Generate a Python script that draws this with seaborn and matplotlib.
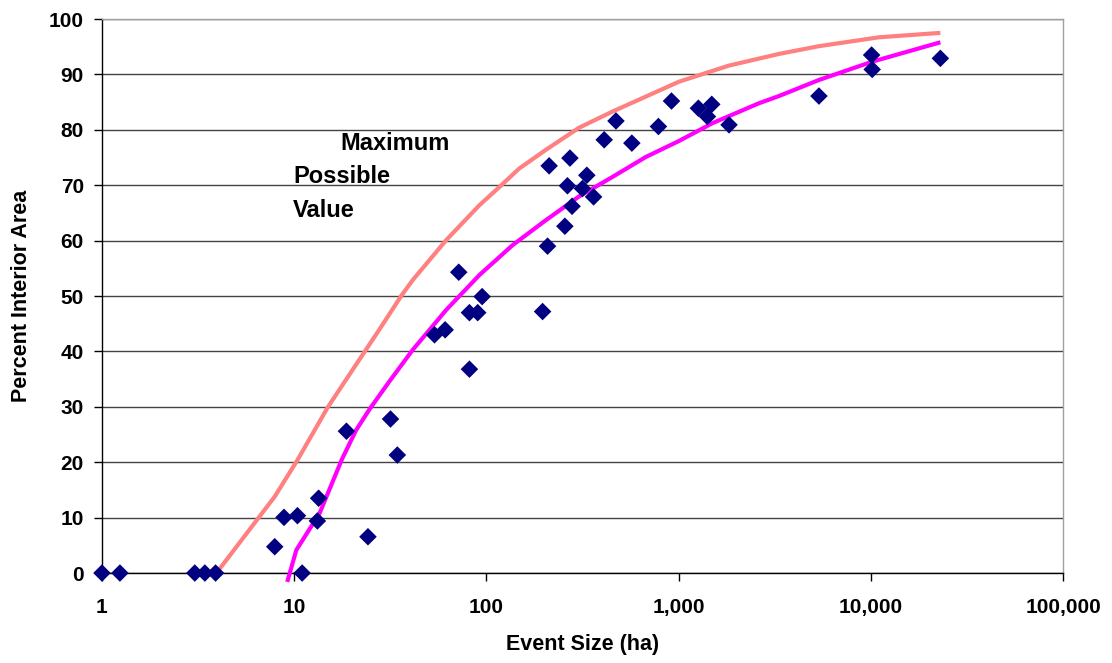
#!/usr/bin/env python
# coding: utf-8

# Percent interior area vs event size, with maximum possible value curve and fitted curve

import numpy as np
import pandas as pd
import matplotlib
matplotlib.use("Agg")
import matplotlib.pyplot as plt
import matplotlib.ticker as mticker
import seaborn as sns

sns.set_style("white")
plt.rcParams['font.family'] = ['Liberation Sans', 'DejaVu Sans']
plt.rcParams['text.color'] = 'black'
plt.rcParams['axes.labelcolor'] = 'black'
plt.rcParams['xtick.color'] = 'black'
plt.rcParams['ytick.color'] = 'black'

# observed events
event_size = [1, 1.24, 3.04, 3.43, 3.9, 11.0, 7.92, 8.85, 10.4, 13.4, 13.2, 24.2,
              34.4, 18.7, 31.7, 53.7, 61.0, 71.8, 81.6, 81.6, 90.1, 95.0, 196,
              208, 256, 279, 264, 212, 272, 333, 316, 361, 410, 472, 571, 785,
              918, 1267, 1487, 1412, 1829, 5370, 10090, 10160, 23000]
pct_interior = [0, 0, 0, 0, 0, 0, 4.75, 10.05, 10.35, 13.5, 9.4, 6.55,
                21.3, 25.6, 27.8, 43.0, 43.9, 54.3, 36.8, 47.0, 47.0, 49.9, 47.2,
                59.0, 62.6, 66.2, 69.9, 73.5, 74.9, 71.8, 69.4, 67.9, 78.2, 81.6, 77.6, 80.6,
                85.2, 83.9, 84.6, 82.4, 80.9, 86.1, 93.5, 90.9, 92.9]

# maximum possible value curve
max_x = [3.94, 7.92, 10.4, 15, 23.3, 27.8, 36, 41.4, 61.8, 92, 117, 148, 204, 304,
         453, 675, 1006, 1829, 3327, 5370, 11000, 23000]
max_y = [0, 13.8, 20.4, 30, 40, 44.0, 50, 52.9, 60.1, 66.4, 69.7, 73.0, 76.4, 80.4,
         83.3, 86.0, 88.7, 91.6, 93.7, 95.1, 96.7, 97.5]

# fitted curve
fit_x = [9.2, 10.26, 13.56, 17.7, 21.0, 24.7, 31.3, 41.4, 61.8, 92, 137, 204, 304, 453,
         675, 1006, 1499, 2618, 3327, 5370, 10160, 23000]
fit_y = [-1.6, 4.15, 10.8, 20.5, 25.8, 29.6, 34.6, 40.3, 47.5, 53.8, 59.2, 63.7, 68.0, 71.5,
         75.1, 78.0, 81.2, 84.8, 86.1, 89.0, 92.3, 95.8]

pts_df = pd.DataFrame({'size': event_size, 'pct': pct_interior})
max_df = pd.DataFrame({'size': max_x, 'pct': max_y})
fit_df = pd.DataFrame({'size': fit_x, 'pct': fit_y})

fig = plt.figure(figsize=(11.12, 6.63), dpi=100)
ax = fig.add_axes([0.0917, 0.1357, 0.8643, 0.8356])

ax.set_xscale('log')
ax.set_xlim(1, 100000)
ax.set_ylim(0, 100)

sns.lineplot(data=max_df, x='size', y='pct', sort=False, estimator=None,
             color='#FF8080', linewidth=3, ax=ax, zorder=3)
sns.lineplot(data=fit_df, x='size', y='pct', sort=False, estimator=None,
             color='#FF00FF', linewidth=3, ax=ax, zorder=4)
for ln in ax.lines:
    ln.set_clip_on(False)
    ln.set_solid_capstyle('butt')
    ln.set_solid_joinstyle('round')
sns.scatterplot(data=pts_df, x='size', y='pct', marker='D', s=80, color='#000080',
                edgecolor='none', ax=ax, zorder=5, clip_on=False)

# grid
ax.set_yticks(np.arange(0, 101, 10))
ax.yaxis.grid(True, color='#444444', linewidth=1)
ax.xaxis.grid(False)
ax.set_axisbelow(True)

ax.xaxis.set_major_locator(mticker.LogLocator(base=10, numticks=10))
ax.xaxis.set_minor_locator(mticker.NullLocator())
ax.xaxis.set_major_formatter(mticker.FuncFormatter(lambda v, p: "{:,.0f}".format(v)))

for s in ['left', 'bottom']:
    ax.spines[s].set_color('black')
    ax.spines[s].set_linewidth(1)
for s in ['top', 'right']:
    ax.spines[s].set_color('#a0a0a0')
    ax.spines[s].set_linewidth(1)

ax.tick_params(axis='y', direction='out', length=6, width=1, color='black',
               labelsize=15, pad=7, left=True)
ax.tick_params(axis='x', direction='out', length=6, width=1, color='black',
               labelsize=15, pad=12, bottom=True)
for lab in ax.get_xticklabels() + ax.get_yticklabels():
    lab.set_fontweight('bold')

ax.set_xlabel("Event Size (ha)", fontsize=15.5, fontweight='bold', labelpad=12)
ax.set_ylabel("Percent Interior Area", fontsize=15.5, fontweight='bold', labelpad=12)

# annotation for the maximum possible value curve
fig.text(340 / 1112, 1 - 150 / 663, "Maximum", fontsize=17, fontweight='bold', va='baseline')
fig.text(293 / 1112, 1 - 183 / 663, "Possible", fontsize=17, fontweight='bold', va='baseline')
fig.text(293 / 1112, 1 - 217 / 663, "Value", fontsize=17, fontweight='bold', va='baseline')

plt.savefig("out.png", dpi=100)
